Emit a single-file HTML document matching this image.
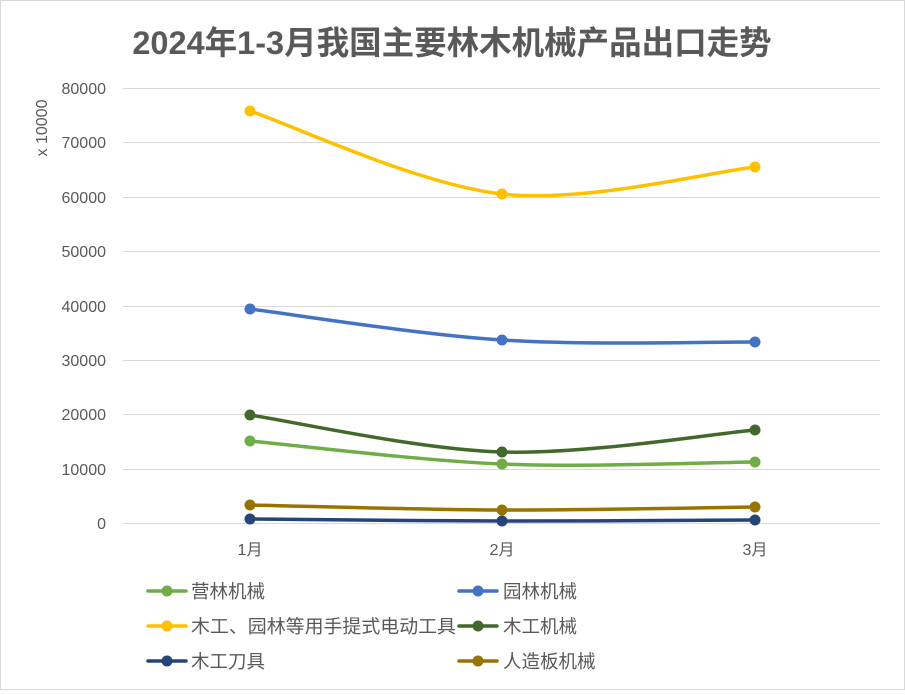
<!DOCTYPE html>
<html><head><meta charset="utf-8"><style>
html,body{margin:0;padding:0;background:#fff}
svg text{font-family:"Liberation Sans","Noto Sans CJK SC",sans-serif}
</style></head><body>
<svg width="905" height="690" xmlns="http://www.w3.org/2000/svg">
<rect x="0.5" y="0.5" width="904" height="689" fill="#fff" stroke="#d9d9d9"/>
<text x="452" y="54" text-anchor="middle" font-size="32.5" font-weight="bold" fill="#595959">2024年1-3月我国主要林木机械产品出口走势</text>
<g stroke="#d9d9d9" stroke-width="1">
<line x1="123" x2="880" y1="88.5" y2="88.5"/>
<line x1="123" x2="880" y1="142.5" y2="142.5"/>
<line x1="123" x2="880" y1="197.5" y2="197.5"/>
<line x1="123" x2="880" y1="251.5" y2="251.5"/>
<line x1="123" x2="880" y1="306.5" y2="306.5"/>
<line x1="123" x2="880" y1="360.5" y2="360.5"/>
<line x1="123" x2="880" y1="414.5" y2="414.5"/>
<line x1="123" x2="880" y1="469.5" y2="469.5"/>
<line x1="123" x2="880" y1="523.5" y2="523.5"/>
</g>
<g font-size="16" fill="#595959" text-anchor="end">
<text x="106" y="94">80000</text><text x="106" y="148">70000</text><text x="106" y="203">60000</text>
<text x="106" y="257">50000</text><text x="106" y="312">40000</text><text x="106" y="366">30000</text>
<text x="106" y="420">20000</text><text x="106" y="475">10000</text><text x="106" y="529">0</text>
</g>
<text transform="translate(47,128) rotate(-90)" text-anchor="middle" font-size="16" fill="#595959">x 10000</text>
<g font-size="16" fill="#595959" text-anchor="middle">
<text x="250" y="555">1月</text><text x="502" y="555">2月</text><text x="755" y="555">3月</text>
</g>
<g fill="none" stroke-width="3.5" stroke-linecap="round">
<path stroke="#ffc000" d="M250,111 C292,124.8 417.8,184.7 502,194 C586.2,203.3 712.8,171.5 755,167"/>
<path stroke="#4472c4" d="M250,309 C292,314.2 417.8,334.5 502,340 C586.2,345.5 712.8,341.7 755,342"/>
<path stroke="#43682b" d="M250,415 C292,421.2 417.8,449.5 502,452 C586.2,454.5 712.8,433.7 755,430"/>
<path stroke="#70ad47" d="M250,441 C292,444.8 417.8,460.5 502,464 C586.2,467.5 712.8,462.3 755,462"/>
<path stroke="#997300" d="M250,505 C292,505.8 417.8,509.7 502,510 C586.2,510.3 712.8,507.5 755,507"/>
<path stroke="#264478" d="M250,519 C292,519.3 417.8,520.8 502,521 C586.2,521.2 712.8,520.2 755,520"/>
</g>
<g>
<g fill="#ffc000"><circle cx="250" cy="111" r="5.5"/><circle cx="502" cy="194" r="5.5"/><circle cx="755" cy="167" r="5.5"/></g>
<g fill="#4472c4"><circle cx="250" cy="309" r="5.5"/><circle cx="502" cy="340" r="5.5"/><circle cx="755" cy="342" r="5.5"/></g>
<g fill="#43682b"><circle cx="250" cy="415" r="5.5"/><circle cx="502" cy="452" r="5.5"/><circle cx="755" cy="430" r="5.5"/></g>
<g fill="#70ad47"><circle cx="250" cy="441" r="5.5"/><circle cx="502" cy="464" r="5.5"/><circle cx="755" cy="462" r="5.5"/></g>
<g fill="#997300"><circle cx="250" cy="505" r="5.5"/><circle cx="502" cy="510" r="5.5"/><circle cx="755" cy="507" r="5.5"/></g>
<g fill="#264478"><circle cx="250" cy="519" r="5.5"/><circle cx="502" cy="521" r="5.5"/><circle cx="755" cy="520" r="5.5"/></g>
</g>
<g stroke-width="3.5" stroke-linecap="round">
<line x1="148" x2="186" y1="591" y2="591" stroke="#70ad47"/><circle cx="167" cy="591" r="5.5" fill="#70ad47"/>
<line x1="459" x2="497" y1="591" y2="591" stroke="#4472c4"/><circle cx="478" cy="591" r="5.5" fill="#4472c4"/>
<line x1="148" x2="186" y1="626" y2="626" stroke="#ffc000"/><circle cx="167" cy="626" r="5.5" fill="#ffc000"/>
<line x1="459" x2="497" y1="626" y2="626" stroke="#43682b"/><circle cx="478" cy="626" r="5.5" fill="#43682b"/>
<line x1="148" x2="186" y1="661" y2="661" stroke="#264478"/><circle cx="167" cy="661" r="5.5" fill="#264478"/>
<line x1="459" x2="497" y1="661" y2="661" stroke="#997300"/><circle cx="478" cy="661" r="5.5" fill="#997300"/>
</g>
<g font-size="18.5" fill="#595959">
<text x="191" y="598">营林机械</text><text x="503" y="598">园林机械</text>
<text x="191" y="633" textLength="265" lengthAdjust="spacingAndGlyphs">木工、园林等用手提式电动工具</text><text x="503" y="633">木工机械</text>
<text x="191" y="668">木工刀具</text><text x="503" y="668">人造板机械</text>
</g>
</svg>
</body></html>
